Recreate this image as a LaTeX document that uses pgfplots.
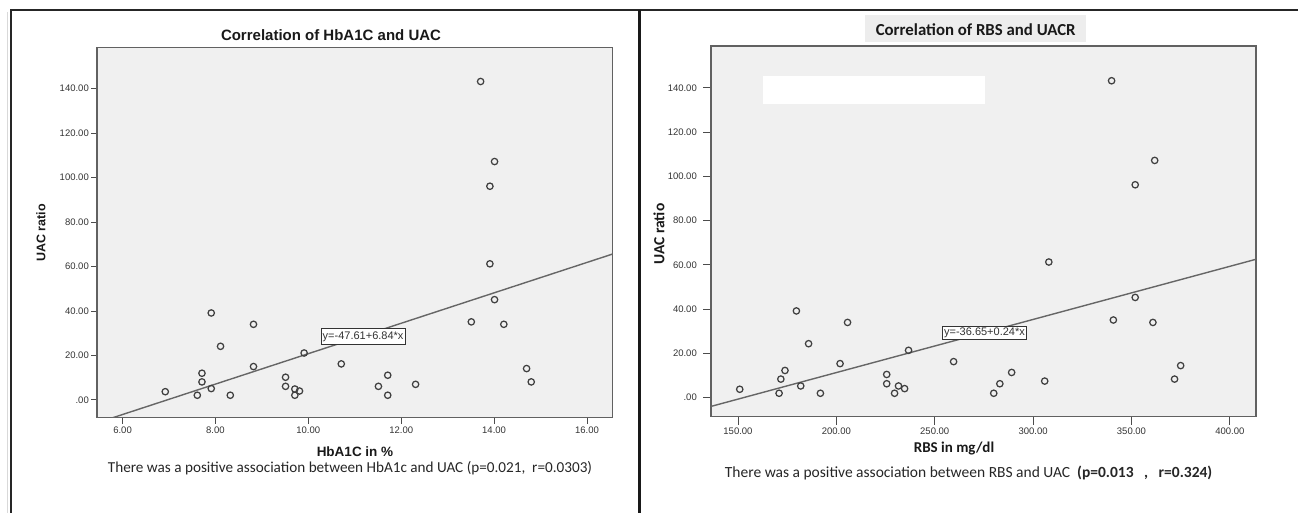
\documentclass[border=0pt]{standalone}
\usepackage{fontspec}
\setmainfont{Liberation Sans}
\newfontfamily\calibri{Carlito}
\usepackage{pgfplots}
\pgfplotsset{compat=1.18}

% SPSS-like scatter panel
\pgfplotsset{spss/.style={
    scale only axis,
    anchor=south west,
    axis background/.style={fill=black!6},
    axis line style={draw=black!62, line width=1.4pt},
    tick align=outside,
    tick pos=left,
    major tick length=6pt,
    major tick style={draw=black!70, line width=0.9pt},
    ticklabel style={font=\fontsize{9.5}{10}\selectfont, text=black!80},
    ytick={0,20,40,60,80,100,120,140},
    yticklabels={.00,20.00,40.00,60.00,80.00,100.00,120.00,140.00},
    clip=true,
  },
  pts/.style={only marks, mark=o, mark size=3.2pt,
    mark options={draw=black!75, line width=1.25pt}},
  fit/.style={draw=black!60, line width=1.4pt, no marks},
}
\tikzset{eqbox/.style={draw=black!80, fill=white, line width=0.9pt,
    inner xsep=1.5pt, inner ysep=3pt, text=black!80}}

\begin{document}
\begin{tikzpicture}
\path[use as bounding box] (0,0) rectangle (1298pt,-513pt);

% panel frames
\draw[black!15, line width=1pt] (7pt,-12pt) -- (7pt,-513pt);
\draw[black!85, line width=1.5pt] (11pt,-513pt) -- (11pt,-10pt) -- (1298pt,-10pt);
\draw[black!90, line width=3pt] (639pt,-10pt) -- (639pt,-513pt);

% ---- left: HbA1C vs UAC ratio
\begin{axis}[spss,
    at={(97pt,-417.7pt)},
    width=515.5pt, height=370pt,
    xmin=5.45, xmax=16.55, ymin=-8, ymax=158.4,
    xtick={6,8,10,12,14,16},
    xticklabels={6.00,8.00,10.00,12.00,14.00,16.00},
    yticklabel style={inner xsep=2pt},
  ]
\addplot[pts] coordinates {
  (6.92,3.7) (7.61,2.1) (7.71,12.0) (7.71,8.1) (7.91,39.1)
  (7.91,5.1) (8.11,24.1) (8.32,2.1) (8.82,34.0) (8.82,15.0)
  (9.51,10.2) (9.51,6.1) (9.71,4.9) (9.71,2.1) (9.81,4.0)
  (9.91,21.1) (10.71,16.2) (11.51,6.1) (11.71,11.1) (11.71,2.1)
  (12.31,7.0) (13.51,35.1) (13.71,143.2) (13.91,96.1) (13.91,61.2)
  (14.01,107.2) (14.01,45.1) (14.21,34.0) (14.70,14.1) (14.80,8.1)
};
\addplot[fit] coordinates {(5.45,-10.33) (16.55,65.59)};
\node[eqbox, font=\fontsize{11}{12}\selectfont] at (axis cs:11.18,28.5) {y=-47.61+6.84*x};
\end{axis}

\node[font=\bfseries\fontsize{15}{16}\selectfont, text=black!90] at (331pt,-35pt) {Correlation of HbA1C and UAC};
\node[font=\bfseries\fontsize{12.5}{13}\selectfont, rotate=90, text=black!90] at (41pt,-233pt) {UAC ratio};
\node[font=\bfseries\fontsize{13.5}{14}\selectfont, text=black!90] at (355pt,-452pt) {HbA1C in \%};
\node[font=\calibri\fontsize{15.2}{16}\selectfont, text=black!85] at (350pt,-468.5pt)
  {There was a positive association between HbA1c and UAC (p=0.021,\ \ r=0.0303)};

% ---- right: RBS vs UAC ratio
\begin{axis}[spss,
    at={(711pt,-416.5pt)},
    width=545pt, height=370.5pt,
    xmin=136.3, xmax=413.3, ymin=-8.5, ymax=158.9,
    xtick={150,200,250,300,350,400},
    xticklabels={150.00,200.00,250.00,300.00,350.00,400.00},
    major tick length=8pt,
    yticklabel style={inner xsep=6pt},
  ]
\fill[white] (axis cs:162.6,132.6) rectangle (axis cs:275.7,145.4);
\addplot[pts] coordinates {
  (150.9,3.8) (170.9,2.0) (171.8,8.4) (173.9,12.3) (179.7,39.2)
  (181.9,5.3) (185.9,24.4) (191.9,2.0) (201.9,15.4) (205.7,34.0)
  (225.6,10.5) (225.6,6.3) (229.6,2.0) (231.6,5.3) (234.7,4.1)
  (236.7,21.4) (259.6,16.3) (280.0,2.0) (283.1,6.3) (289.1,11.4)
  (305.9,7.5) (308.0,61.3) (339.9,143.2) (340.8,35.1) (351.9,96.2)
  (351.9,45.3) (360.9,34.0) (361.8,107.2) (371.9,8.4) (375.0,14.5)
};
\addplot[fit] coordinates {(136.3,-3.94) (413.3,62.54)};
\node[eqbox, font=\fontsize{11}{12}\selectfont, inner ysep=1.5pt] at (axis cs:275.3,29.2) {y=-36.65+0.24*x};
\end{axis}

\fill[black!7] (865pt,-15pt) rectangle (1086pt,-42.5pt);
\node[font=\calibri\bfseries\fontsize{16.8}{17}\selectfont, text=black!90] at (975.7pt,-30pt) {Correlation of RBS and UACR};
\node[font=\calibri\bfseries\fontsize{15.5}{16}\selectfont, rotate=90, text=black!90] at (659pt,-234pt) {UAC ratio};
\node[font=\calibri\bfseries\fontsize{15}{16}\selectfont, text=black!90] at (954pt,-448.5pt) {RBS in mg/dl};
\node[font=\calibri\fontsize{15.5}{16}\selectfont, text=black!85] at (968.6pt,-473pt)
  {There was a positive association between RBS and UAC\ \ \textbf{(p=0.013\ \ \ ,\ \ \ r=0.324)}};
\end{tikzpicture}
\end{document}
